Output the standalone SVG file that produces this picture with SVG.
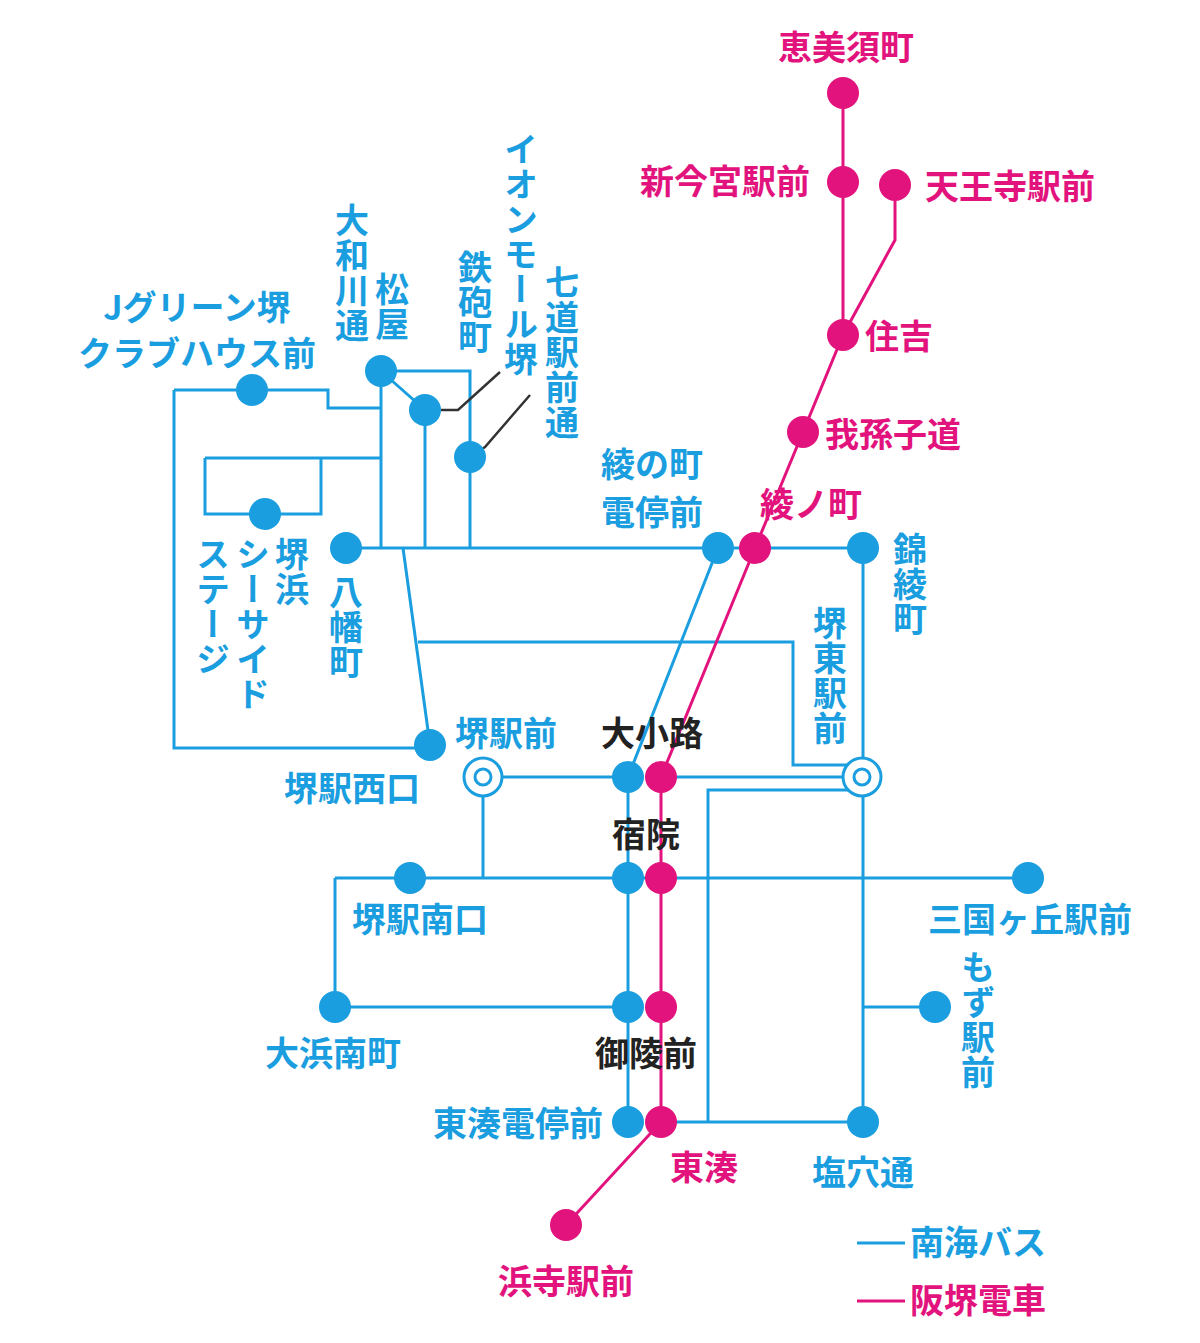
<svg xmlns="http://www.w3.org/2000/svg" width="1200" height="1343" viewBox="0 0 1200 1343">
<style>
text{font-family:"Noto Sans CJK JP","Noto Sans",sans-serif;font-weight:700;font-size:34px}
.b{fill:#1a9ee0}.p{fill:#e2137d}.k{fill:#222}
.v{writing-mode:vertical-rl;letter-spacing:1px}
.bl{stroke:#1a9ee0;stroke-width:3;fill:none}
.pl{stroke:#e2137d;stroke-width:3;fill:none}
.ld{stroke:#333;stroke-width:2.5;fill:none}
.dc{fill:#fff;stroke:#1a9ee0;stroke-width:3}
</style>
<rect width="1200" height="1343" fill="#fff"/>
<g id="connectors">
<path class="bl" d="M174,390H328V408H381M174,390V748H430M205,458H381M205,458V514H321V458M381,371V548M381,371L425,410M381,371H470V548M425,410V548M346,548H863V1122M403,548L430,745M418,642H793V765H850M718,548L628,777M483,777H628M661,777H850M708,1122V790H850M483,777V878M335,878H1028M335,878V1007H628M628,777V1122M863,1007H935M661,1122H863"/>
<path class="pl" d="M843,93V335M895,185V240L843,335L803,432L755,548L661,777V1122L566,1225"/>
<path class="ld" d="M441,410H458L500,372M470,457L485,447L530,395"/>
</g>
<g id="n-ebisu"><circle class="p" cx="843" cy="93" r="16"/><text class="p" x="846" y="60" text-anchor="middle" font-size="37">恵美須町</text></g>
<g id="n-shinimamiya"><circle class="p" cx="843" cy="182" r="16"/><text class="p" x="810" y="194" text-anchor="end">新今宮駅前</text></g>
<g id="n-tennoji"><circle class="p" cx="895" cy="185" r="16"/><text class="p" x="925" y="199">天王寺駅前</text></g>
<g id="n-sumiyoshi"><circle class="p" cx="843" cy="335" r="16"/><text class="p" x="865" y="349">住吉</text></g>
<g id="n-abiko"><circle class="p" cx="803" cy="432" r="16"/><text class="p" x="825" y="447">我孫子道</text></g>
<g id="n-ayanocho"><circle class="p" cx="755" cy="548" r="16"/><text class="p" x="760" y="517">綾ノ町</text></g>
<g id="n-oshoji"><circle class="b" cx="628" cy="777" r="16"/><circle class="p" cx="661" cy="777" r="16"/><text class="k" x="652" y="746" text-anchor="middle">大小路</text></g>
<g id="n-shukuin"><circle class="b" cx="628" cy="878" r="16"/><circle class="p" cx="661" cy="878" r="16"/><text class="k" x="646" y="847" text-anchor="middle">宿院</text></g>
<g id="n-goryomae"><circle class="b" cx="628" cy="1007" r="16"/><circle class="p" cx="661" cy="1007" r="16"/><text class="k" x="646" y="1066" text-anchor="middle">御陵前</text></g>
<g id="n-higashiminato"><circle class="b" cx="628" cy="1122" r="16"/><circle class="p" cx="661" cy="1122" r="16"/><text class="p" x="670" y="1180">東湊</text><text class="b" x="603" y="1136" text-anchor="end">東湊電停前</text></g>
<g id="n-hamadera"><circle class="p" cx="566" cy="1225" r="16"/><text class="p" x="566" y="1294" text-anchor="middle">浜寺駅前</text></g>
<g id="n-jgreen"><circle class="b" cx="252" cy="390" r="16"/><text class="b" x="197" y="320" text-anchor="middle">Jグリーン堺</text><text class="b" x="197" y="366" text-anchor="middle">クラブハウス前</text></g>
<g id="n-matsuya"><circle class="b" cx="381" cy="371" r="16"/><text class="b v" x="352" y="203">大和川通</text><text class="b v" x="392" y="272">松屋</text></g>
<g id="n-teppocho"><circle class="b" cx="425" cy="410" r="16"/><text class="b v" x="521" y="132" font-size="30">イオンモール堺</text><text class="b v" x="475" y="250">鉄砲町</text></g>
<g id="n-shichido"><circle class="b" cx="470" cy="457" r="16"/><text class="b v" x="562" y="265">七道駅前通</text></g>
<g id="n-sakaihama"><circle class="b" cx="265" cy="514" r="16"/><text class="b v" x="292" y="537">堺浜</text><text class="b v" x="253" y="537">シーサイド</text><text class="b v" x="213" y="537">ステージ</text></g>
<g id="n-yawata"><circle class="b" cx="346" cy="548" r="16"/><text class="b v" x="346" y="575">八幡町</text></g>
<g id="n-ayanocho-d"><circle class="b" cx="718" cy="548" r="16"/><text class="b" x="652" y="477" text-anchor="middle">綾の町</text><text class="b" x="652" y="525" text-anchor="middle">電停前</text></g>
<g id="n-kinryo"><circle class="b" cx="863" cy="548" r="16"/><text class="b v" x="910" y="532">錦綾町</text></g>
<g id="n-sakainishi"><circle class="b" cx="430" cy="745" r="16"/><text class="b" x="352" y="801" text-anchor="middle">堺駅西口</text></g>
<g id="n-sakai"><circle class="dc" cx="483" cy="777" r="19"/><circle class="dc" cx="483" cy="777" r="8"/><text class="b" x="455" y="746">堺駅前</text></g>
<g id="n-sakaihigashi"><circle class="dc" cx="862" cy="777" r="19"/><circle class="dc" cx="862" cy="777" r="8"/><text class="b v" x="830" y="606">堺東駅前</text></g>
<g id="n-sakaiminami"><circle class="b" cx="410" cy="878" r="16"/><text class="b" x="420" y="932" text-anchor="middle">堺駅南口</text></g>
<g id="n-mikunigaoka"><circle class="b" cx="1028" cy="878" r="16"/><text class="b" x="1030" y="932" text-anchor="middle">三国ヶ丘駅前</text></g>
<g id="n-ohama"><circle class="b" cx="335" cy="1007" r="16"/><text class="b" x="333" y="1066" text-anchor="middle">大浜南町</text></g>
<g id="n-mozu"><circle class="b" cx="935" cy="1007" r="16"/><text class="b v" x="978" y="950">もず駅前</text></g>
<g id="n-shiana"><circle class="b" cx="863" cy="1122" r="16"/><text class="b" x="863" y="1185" text-anchor="middle">塩穴通</text></g>
<g id="legend">
<line x1="857" y1="1243" x2="905" y2="1243" stroke="#1a9ee0" stroke-width="3"/><text class="b" x="910" y="1255">南海バス</text>
<line x1="857" y1="1301" x2="905" y2="1301" stroke="#e2137d" stroke-width="3"/><text class="p" x="910" y="1313">阪堺電車</text>
</g>
</svg>
